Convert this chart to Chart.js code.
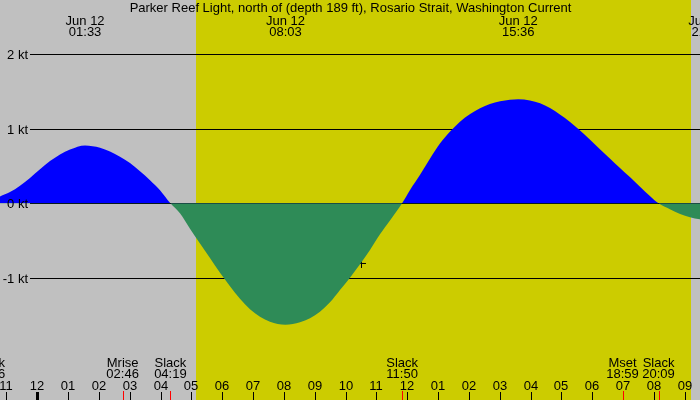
<!DOCTYPE html>
<html>
<head>
<meta charset="utf-8">
<script src="https://cdn.jsdelivr.net/npm/chart.js@4"></script>
<style>
  html, body { margin: 0; padding: 0; background: #fff; }
  canvas { display: block; }
</style>
</head>
<body>
<canvas id="chart" width="700" height="400"></canvas>
<script>
// hours after midnight Jun 12
const times = [-1.567, -1.21, -0.886, -0.561, -0.237, 0.088, 0.412, 0.736, 1.061, 1.55, 2.034, 2.358, 2.682, 3.007, 3.331, 3.656, 3.98, 4.317,
    4.628, 4.953, 5.277, 5.601, 5.926, 6.25, 6.574, 6.899, 7.223, 7.547, 8.05, 8.521, 8.845, 9.169, 9.494, 9.818, 10.142, 10.467, 10.791, 11.116, 11.44, 11.833,
    12.09, 12.41, 12.74, 13.06, 13.39, 13.71, 14.04, 14.36, 14.68, 15.01, 15.33, 15.6, 15.98, 16.31, 16.63, 16.95, 17.28, 17.55, 17.93, 18.25, 18.58, 18.9, 19.23, 19.55, 19.87, 20.15,
    20.52, 20.85, 21.17, 21.49, 21.75];
// knots, flood positive
const speeds = [0, 0.09, 0.15, 0.235, 0.34, 0.455, 0.565, 0.655, 0.72, 0.775, 0.745, 0.695, 0.625, 0.54, 0.43, 0.31, 0.175, 0,
    -0.134, -0.34, -0.54, -0.734, -0.93, -1.11, -1.28, -1.42, -1.52, -1.585, -1.625, -1.594, -1.54, -1.452, -1.326, -1.161, -0.996, -0.817, -0.625, -0.415, -0.23, 0,
    0.178, 0.378, 0.60, 0.80, 0.96, 1.093, 1.196, 1.272, 1.33, 1.366, 1.387, 1.395, 1.378, 1.34, 1.275, 1.19, 1.09, 0.995, 0.85, 0.723, 0.597, 0.473, 0.348, 0.222, 0.098, 0,
    -0.08, -0.143, -0.187, -0.214, -0.222];

const title = "Parker Reef Light, north of (depth 189 ft), Rosario Strait, Washington Current";

const peakTimes = [1.55, 8.05, 15.6, 21.75];
const peakLabels = ["01:33", "08:03", "15:36", "21:45"];
const peakDate = "Jun 12";

const eventTimes = [-1.567, 2.767, 4.317, 11.833, 18.983, 20.15];
const eventNames = ["Slack", "Mrise", "Slack", "Slack", "Mset", "Slack"];
const eventLabels = ["22:26", "02:46", "04:19", "11:50", "18:59", "20:09"];

const firstHour = -1;
const hourLabels = ["11", "12", "01", "02", "03", "04", "05", "06", "07", "08", "09", "10",
    "11", "12", "01", "02", "03", "04", "05", "06", "07", "08", "09"];

const yTicks = [2, 1, 0, -1];
const sunrise = 5.14;
const sunset = 21.21;
const nowTime = 10.516;
const nowSpeed = -0.806;

const FONT = '13px "Liberation Sans", Arial, sans-serif';

const backdrop = {
    id: "backdrop",
    beforeDraw(chart) {
        const c = chart.ctx, x = chart.scales.x;
        c.save();
        c.fillStyle = "#c0c0c0";
        c.fillRect(0, 0, chart.width, chart.height);
        c.fillStyle = "#cccc00";
        const a = Math.round(x.getPixelForValue(sunrise));
        const b = Math.round(x.getPixelForValue(sunset));
        c.fillRect(a, 0, b - a, chart.height);
        c.restore();
    },
    beforeDatasetsDraw(chart) {
        const c = chart.ctx, y = chart.scales.y;
        c.save();
        c.fillStyle = "#000";
        yTicks.forEach(v => {
            c.fillRect(30, Math.round(y.getPixelForValue(v)), chart.width - 30, 1);
        });
        c.restore();
    },
    afterDatasetsDraw(chart) {
        const c = chart.ctx, x = chart.scales.x, y = chart.scales.y;
        c.save();
        c.font = FONT;
        c.fillStyle = "#000";

        // y labels
        c.textAlign = "right";
        yTicks.forEach(v => {
            c.fillText(v + " kt", 28, Math.round(y.getPixelForValue(v)) + 5);
        });

        c.textAlign = "center";
        c.fillText(title, 350.5, 12);

        peakTimes.forEach((t, i) => {
            const px = x.getPixelForValue(t);
            c.fillText(peakDate, px, 25);
            c.fillText(peakLabels[i], px, 36);
        });

        hourLabels.forEach((lab, i) => {
            const h = firstHour + i;
            const px = Math.round(x.getPixelForValue(h));
            c.fillText(lab, px, 390);
            if (h === 0) c.fillRect(px - 1, 392, 3, 8);
            else c.fillRect(px, 392, 1, 8);
        });

        eventTimes.forEach((t, i) => {
            const px = x.getPixelForValue(t);
            c.fillStyle = "#000";
            c.fillText(eventNames[i], px, 367);
            c.fillText(eventLabels[i], px, 378);
            c.fillStyle = "#ff0000";
            c.fillRect(Math.round(px), 391, 1, 9);
        });
        c.restore();
    }
};

new Chart(document.getElementById("chart").getContext("2d"), {
    type: "line",
    data: {
        datasets: [{
            data: times.map((t, i) => ({ x: t, y: speeds[i] })),
            borderWidth: 0,
            borderColor: "rgba(0,0,0,0)",
            pointRadius: 0,
            cubicInterpolationMode: "monotone",
            fill: { target: "origin", above: "#0000ff", below: "#2e8b57" }
        }, {
            type: "scatter",
            data: [{ x: nowTime, y: nowSpeed }],
            pointStyle: "cross",
            pointRadius: 4.5,
            borderColor: "#000",
            borderWidth: 1
        }]
    },
    options: {
        responsive: false,
        animation: false,
        layout: { padding: 0, autoPadding: false },
        plugins: { legend: { display: false }, tooltip: { enabled: false } },
        scales: {
            x: { type: "linear", min: -1.2099, max: 21.4953, display: false },
            y: { min: -2.6343, max: 2.7226, display: false }
        }
    },
    plugins: [backdrop]
});
</script>
</body>
</html>
